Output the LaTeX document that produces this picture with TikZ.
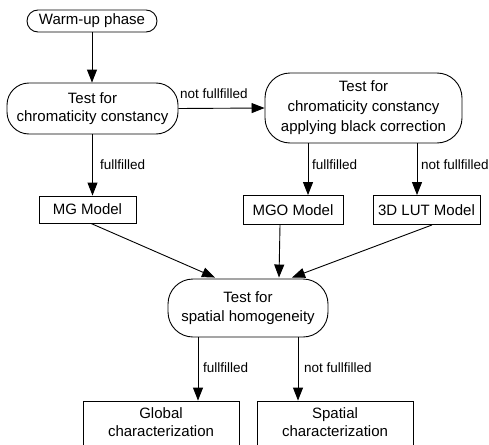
\documentclass[tikz,border=0pt]{standalone}
\usepackage{fontspec}
\setmainfont{Liberation Sans}
\usetikzlibrary{arrows.meta,calc}
\begin{document}
\begin{tikzpicture}[x=1pt,y=-1pt,
  box/.style={draw,line width=0.9pt,inner sep=0pt,align=center,font=\fontsize{15}{18.5}\selectfont},
  lbl/.style={anchor=west,inner sep=0pt,font=\fontsize{13.5}{16}\selectfont},
  arr/.style={line width=0.9pt,-{Triangle[length=13pt,width=10pt]}}]
\clip (0,0) rectangle (489,444);
\fill[white] (0,0) rectangle (489,444);
\node[box,minimum width=130pt,minimum height=22pt,rounded corners=11pt] (warm) at (92,21) {Warm-up phase};
\node[box,minimum width=171pt,minimum height=51pt,rounded corners=22pt] (test1) at (92.5,108.5) {Test for\\chromaticity constancy};
\node[box,minimum width=197pt,minimum height=70pt,rounded corners=25pt,font=\fontsize{15}{20}\selectfont] (test2) at (363.5,108) {Test for\\chromaticity constancy\\applying black correction};
\node[box,minimum width=97pt,minimum height=27pt] (mg) at (87.5,209.5) {MG Model};
\node[box,minimum width=100pt,minimum height=29pt] (mgo) at (293,210) {MGO Model};
\node[box,minimum width=107pt,minimum height=29pt] (lut) at (426.5,210) {3D LUT Model};
\node[box,minimum width=160pt,minimum height=58pt,rounded corners=25pt] (test3) at (248,308) {Test for\\spatial homogeneity};
\node[box,minimum width=156pt,minimum height=56pt,text depth=14pt] (glob) at (161,429) {Global\\characterization};
\node[box,minimum width=156pt,minimum height=56pt,text depth=14pt] (spat) at (335,429) {Spatial\\characterization};
\coordinate (c1) at ($(test2.south)+(-55.5,0)$);
\coordinate (c2) at ($(test2.south)+(53.5,0)$);
\coordinate (c3) at ($(test3.south)+(-50,0)$);
\coordinate (c4) at ($(test3.south)+(50,0)$);
\draw[arr] (warm.south) -- (warm.south |- test1.north);
\draw[arr] (test1.east) -- (test2.west);
\draw[arr] (test1.south) -- (test1.south |- mg.north);
\draw[arr] (c1) -- (c1 |- mgo.north);
\draw[arr] (c2) -- (c2 |- lut.north);
\draw[arr] ($(mg.south)+(3.5,0)$) -- ($(test3.north)+(-33,-1)$);
\draw[arr] ($(mgo.south)+(-13,0)$) -- ($(test3.north)+(31,-1)$);
\draw[arr] ($(lut.south)+(5.5,0)$) -- ($(test3.north)+(44,-1)$);
\draw[arr] (c3) -- (c3 |- glob.north);
\draw[arr] (c4) -- (c4 |- spat.north);
\node[lbl] (l1) at (180,94) {not fullfilled};
\node[lbl] (l2) at (100,165) {fullfilled};
\node[lbl] (l3) at (312,165) {fullfilled};
\node[lbl] (l4) at (421,165) {not fullfilled};
\node[lbl] (l5) at (203,368) {fullfilled};
\node[lbl] (l6) at (304,368) {not fullfilled};
\end{tikzpicture}
\end{document}
